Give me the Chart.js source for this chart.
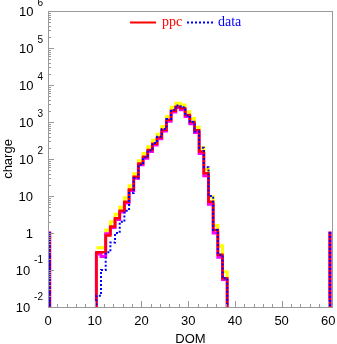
<!DOCTYPE html>
<html>
<head>
<meta charset="utf-8">
<script src="https://cdn.jsdelivr.net/npm/chart.js@4"></script>
<style>
  body { margin: 0; background: #fff; }
  #wrap { width: 337px; height: 344px; }
</style>
</head>
<body>
<div id="wrap"><canvas id="chart" width="337" height="344"></canvas></div>
<script>
// DOM bins (one per DOM number), histogram edges sit a bit right of the integer
const dom = [10, 11, 12, 13, 14, 15, 16, 17, 18, 19, 20, 21, 22, 23, 24, 25, 26, 27, 28, 29, 30, 31, 32, 33, 34, 35, 36, 37];
const binOffset = 0.35;

// ppc (red), its upper band (yellow), lower band (magenta), and the data (blue)
const ppc     = [0.30, 0.30, 0.85, 1.5, 2.5, 4.0, 7.0, 15, 33, 75, 115, 175, 260, 380, 620, 1150, 2000, 2600, 2350, 1550, 1000, 600, 160, 41, 7.0, 1.2, 0.26, 0.06];
const ppcHigh = [0.40, 0.40, 1.20, 2.0, 3.2, 5.0, 9.0, 19, 40, 90, 140, 215, 320, 470, 760, 1400, 2500, 3200, 2900, 1900, 1250, 720, 200, 52, 9.5, 1.6, 0.45, 0.09];
const ppcLow  = [0.27, 0.23, 0.95, 1.4, 2.3, 3.7, 6.5, 14, 30, 70, 105, 160, 240, 350, 570, 1050, 1850, 2450, 2150, 1400, 900, 520, 140, 35, 6.0, 1.0, 0.22, 0.055];
const data    = [0.02, 0.10, 0.30, 0.55, 1.0, 2.0, 4.0, 12, 30, 70, 110, 170, 270, 400, 650, 1200, 2100, 2800, 2500, 1500, 1000, 550, 200, 60, 10, 1.2, 0.26, 0.06];

// lone entries at the edge DOMs
const spikeDom = [0, 60];
const spikeVal = [1, 1];

// axes
const xTicks = [0, 10, 20, 30, 40, 50, 60];
const yExps = [-2, -1, 0, 1, 2, 3, 4, 5, 6];
const floorVal = 1e-4;

function stepPoints(values, withSpikes) {
  const pts = [];
  if (withSpikes) {
    pts.push({ x: 0, y: floorVal });
    pts.push({ x: spikeDom[0] + binOffset - 0.03, y: spikeVal[0] });
    pts.push({ x: spikeDom[0] + binOffset + 0.03, y: floorVal });
  }
  dom.forEach((d, i) => pts.push({ x: d + binOffset, y: values[i] }));
  pts.push({ x: dom[dom.length - 1] + 1 + binOffset, y: floorVal });
  if (withSpikes) {
    pts.push({ x: spikeDom[1] + binOffset - 0.03, y: spikeVal[1] });
    pts.push({ x: spikeDom[1] + binOffset + 0.03, y: floorVal });
  }
  return pts;
}

const frame = {
  id: "frame",
  afterDraw(chart) {
    const ctx = chart.ctx;
    const a = chart.chartArea;
    const xs = chart.scales.x, ys = chart.scales.y;
    ctx.save();
    ctx.strokeStyle = "#999";
    ctx.lineWidth = 1;
    ctx.strokeRect(a.left + 0.5, a.top + 0.5, a.right - a.left - 1, a.bottom - a.top);

    // x ticks (inside)
    ctx.beginPath();
    for (let v = 0; v <= 60; v += 2) {
      const px = Math.round(xs.getPixelForValue(v)) + 0.5;
      const len = v % 10 === 0 ? 6 : 3;
      ctx.moveTo(px, a.bottom);
      ctx.lineTo(px, a.bottom - len);
    }
    // y ticks (inside)
    for (let e = -2; e <= 6; e++) {
      const py = Math.round(ys.getPixelForValue(Math.pow(10, e))) + 0.5;
      ctx.moveTo(a.left, py);
      ctx.lineTo(a.left + 6, py);
      if (e < 6) {
        for (let m = 2; m <= 9; m++) {
          const pm = Math.round(ys.getPixelForValue(m * Math.pow(10, e))) + 0.5;
          ctx.moveTo(a.left, pm);
          ctx.lineTo(a.left + 3, pm);
        }
      }
    }
    ctx.stroke();

    // tick labels
    ctx.fillStyle = "#000";
    ctx.font = "13px 'Liberation Sans', Arial, sans-serif";
    ctx.textAlign = "center";
    ctx.textBaseline = "alphabetic";
    xTicks.forEach(v => ctx.fillText(String(v), xs.getPixelForValue(v), 325));

    yExps.forEach(e => {
      const py = ys.getPixelForValue(Math.pow(10, e));
      ctx.textAlign = "right";
      if (e === 0 || e === 1) {
        ctx.font = "13px 'Liberation Sans', Arial, sans-serif";
        ctx.fillText(e === 0 ? "1" : "10", 33, py + 4.5);
      } else {
        const ex = String(e);
        ctx.font = "10px 'Liberation Sans', Arial, sans-serif";
        const w = ctx.measureText(ex).width;
        ctx.fillText(ex, 43, py + (e < 0 ? -7 : -5));
        ctx.font = "13px 'Liberation Sans', Arial, sans-serif";
        ctx.fillText("10", 43 - w - 4, py + 4.5);
      }
    });

    // axis titles
    ctx.font = "13px 'Liberation Sans', Arial, sans-serif";
    ctx.textAlign = "center";
    ctx.fillText("DOM", (a.left + a.right) / 2, 343);
    ctx.save();
    ctx.translate(12, (a.top + a.bottom) / 2);
    ctx.rotate(-Math.PI / 2);
    ctx.fillText("charge", 0, 0);
    ctx.restore();

    // legend
    ctx.lineWidth = 2;
    ctx.strokeStyle = "#ff0000";
    ctx.beginPath();
    ctx.moveTo(130, 22.5); ctx.lineTo(156, 22.5);
    ctx.stroke();
    ctx.strokeStyle = "#0000ff";
    ctx.setLineDash([2, 2]);
    ctx.beginPath();
    ctx.moveTo(187, 22.5); ctx.lineTo(213, 22.5);
    ctx.stroke();
    ctx.setLineDash([]);
    ctx.font = "14px 'Liberation Serif', 'Times New Roman', serif";
    ctx.textAlign = "left";
    ctx.fillStyle = "#ff0000";
    ctx.fillText("ppc", 162, 26);
    ctx.fillStyle = "#0000ff";
    ctx.fillText("data", 218, 26);
    ctx.restore();
  }
};

// first dataset is drawn on top
new Chart(document.getElementById("chart"), {
  type: "line",
  data: {
    datasets: [
      { label: "data", data: stepPoints(data, true), borderColor: "#0000ff", borderWidth: 2, borderDash: [2, 2] },
      { label: "ppc", data: stepPoints(ppc, true), borderColor: "#ff0000", borderWidth: 2.5 },
      { label: "ppc low", data: stepPoints(ppcLow, true), borderColor: "#ff00ff", borderWidth: 3 },
      { label: "ppc high", data: stepPoints(ppcHigh, false), borderColor: "#ffff00", borderWidth: 3 }
    ]
  },
  options: {
    responsive: false,
    animation: false,
    devicePixelRatio: 1,
    layout: { padding: { left: 48, right: 4, top: 11, bottom: 37 } },
    elements: {
      line: { stepped: true, fill: false, tension: 0 },
      point: { radius: 0 }
    },
    plugins: { legend: { display: false }, tooltip: { enabled: false } },
    scales: {
      x: { type: "linear", min: 0, max: 61, display: false },
      y: { type: "logarithmic", min: 0.01, max: 1e6, display: false }
    }
  },
  plugins: [frame]
});
</script>
</body>
</html>
